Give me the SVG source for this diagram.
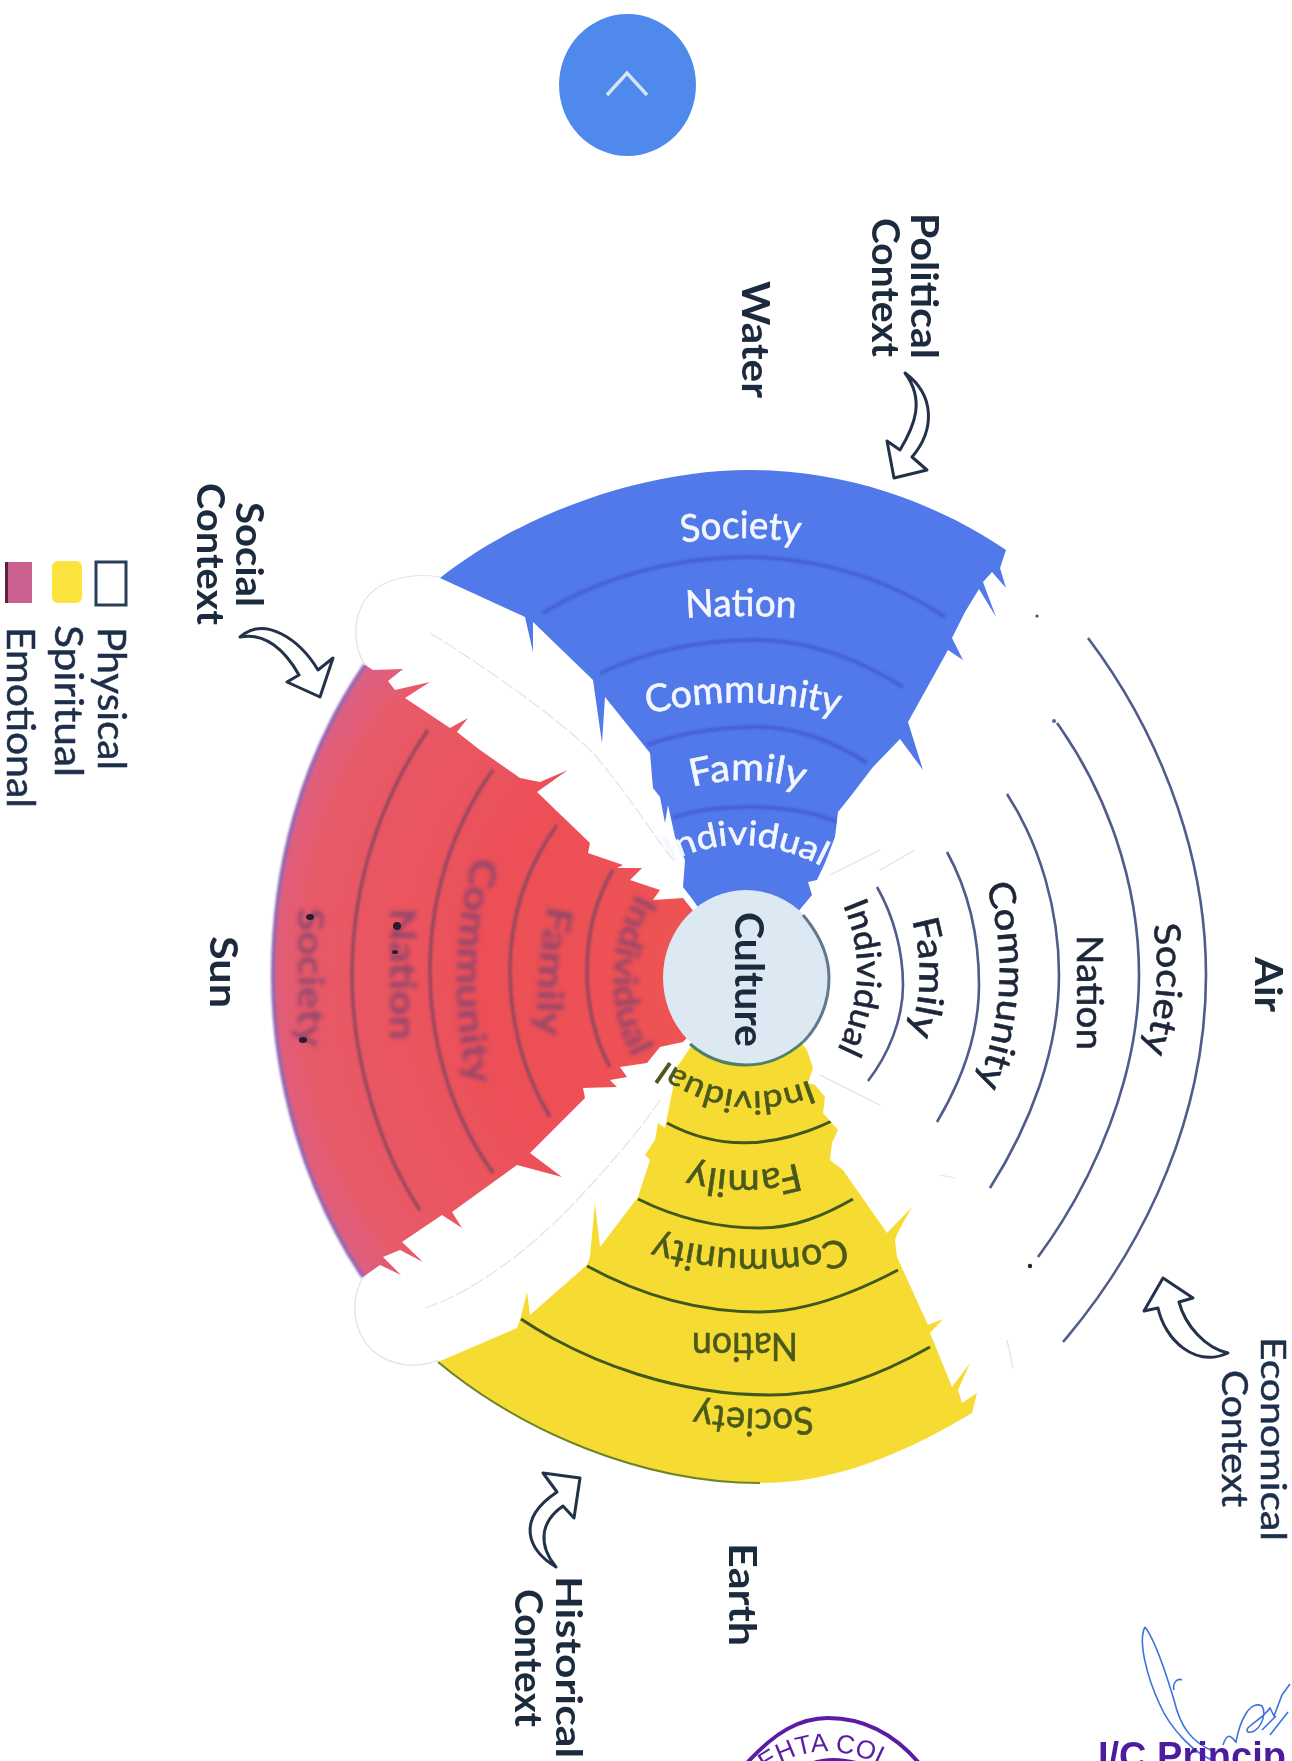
<svg xmlns="http://www.w3.org/2000/svg" xmlns:xlink="http://www.w3.org/1999/xlink" width="1292" height="1761" viewBox="0 0 1292 1761">
<style>
text{font-family:Lato,"Open Sans","Liberation Sans",sans-serif}
.b{font-weight:700;fill:#1c2a3c}
.r{font-weight:400;fill:#1f2f48;stroke:#1f2f48;stroke-width:.5}
.wh{font-weight:400;fill:#f4f7ff;stroke:#f4f7ff;stroke-width:.6}
.ye{font-weight:400;fill:#4a581c;stroke:#4a581c;stroke-width:.6}
.rd{font-weight:700;fill:#7c4470;opacity:.78}
.dk{font-weight:400;fill:#1b2638;stroke:#1b2638;stroke-width:.6}
.ring{fill:none}
.bl{stroke:#4760d6;stroke-width:4}
.rl{stroke:#96465f;stroke-width:3.5}
.yl{stroke:#40591c;stroke-width:3}
.wl{stroke:#4f5b8c;stroke-width:2.6}
.arrow{fill:#fff;stroke:#22304a;stroke-width:3;stroke-linejoin:round}
.fe{fill:none;stroke:#e0e2ec;stroke-width:1.2}
</style>
<defs>
<filter id="soft" x="-5%" y="-5%" width="110%" height="110%"><feGaussianBlur stdDeviation="0.7"/></filter>
<filter id="smear" x="-20%" y="-20%" width="140%" height="140%"><feGaussianBlur stdDeviation="2"/></filter>
<filter id="arcblur" x="-10%" y="-10%" width="120%" height="120%"><feGaussianBlur stdDeviation="1.3"/></filter>
<radialGradient id="redg" gradientUnits="userSpaceOnUse" cx="746" cy="977" r="500">
<stop offset="0" stop-color="#ef5350"/><stop offset=".55" stop-color="#ec5058"/><stop offset=".88" stop-color="#e85a68"/><stop offset="1" stop-color="#d9608a"/>
</radialGradient>
<path id="blueS" d="M440,578 C520,515 640,470 750,470 C850,470 940,505 1006,550 L1000,568 L1006,588 L992,572 L983,582 L996,617 L979,589 L965,612 L952,638 L963,660 L948,650 L908,722 L923,770 L900,739 L873,767 L850,797 L838,812 L835,837 L825,863 L817,880 L808,882 L812,895 L802,907 L746,977 L693,900 L683,887 L685,860 L675,837 L668,805 L665,823 L660,797 L653,788 L650,753 L605,697 L602,743 L593,680 L533,622 L533,652 L525,617 Z"/>
<path id="redS" d="M365,665 C300,760 273,870 273,975 C273,1080 305,1190 363,1277 L380,1265 L401,1275 L383,1257 L400,1250 L423,1262 L402,1242 L442,1215 L462,1228 L452,1212 L517,1165 L562,1177 L530,1153 L585,1098 L583,1088 L617,1087 L610,1080 L627,1077 L620,1067 L647,1063 L660,1047 L683,1042 L746,977 L683,898 L653,900 L660,890 L630,880 L642,868 L617,868 L623,865 L588,853 L590,843 L537,792 L568,770 L540,782 L520,778 L480,750 L457,732 L468,718 L450,728 L405,698 L430,682 L395,690 L388,681 L403,669 L373,670 Z"/>
<path id="yelS" d="M438,1362 C520,1430 640,1483 760,1483 C840,1483 910,1450 972,1413 L977,1393 L962,1403 L958,1390 L970,1363 L952,1387 L930,1333 L943,1319 L928,1325 L897,1257 L895,1240 L898,1232 L912,1207 L887,1233 L843,1170 L830,1160 L832,1143 L838,1130 L823,1113 L825,1097 L815,1085 L808,1083 L813,1068 L807,1050 L746,977 L690,1048 L677,1067 L670,1103 L665,1128 L658,1123 L655,1140 L645,1155 L650,1160 L638,1197 L600,1247 L595,1203 L590,1257 L587,1265 L530,1315 L527,1292 L520,1320 L517,1328 Z"/>
<clipPath id="cb"><use xlink:href="#blueS"/></clipPath>
<clipPath id="cr"><use xlink:href="#redS"/></clipPath>
<clipPath id="cy"><use xlink:href="#yelS"/></clipPath>
<path id="t-bs" d="M682,543 Q741,533 802,543"/>
<path id="t-bn" d="M686,618 Q742,614 798,618"/>
<path id="t-bc" d="M648,714 Q745,690 840,716"/>
<path id="t-bf" d="M692,787 Q750,772 805,790"/>
<path id="t-bi" d="M670,862 Q745,825 825,868"/>
<path id="t-ys" d="M812,1406 Q755,1414 695,1402"/>
<path id="t-yc" d="M845,1238 Q750,1262 655,1235"/>
<path id="t-yf" d="M798,1163 Q745,1178 688,1163"/>
<path id="t-yi" d="M810,1080 Q735,1110 668,1062"/>
<path id="t-wi" d="M843,905 Q876,980 832,1060"/>
<path id="t-wf" d="M912,920 Q930,985 905,1045"/>
<path id="t-wc" d="M986,885 Q1018,985 975,1090"/>
<path id="t-ws" d="M1153,925 Q1165,990 1142,1055"/>
<path id="t-rc" d="M474,856 Q442,975 470,1090"/>
<path id="t-rf" d="M548,905 Q535,970 538,1037"/>
<path id="t-ri" d="M637,893 Q590,980 636,1065"/>
<path id="t-seal" d="M765,1772 Q825,1729 900,1776"/>
</defs>
<rect width="1292" height="1761" fill="#fff"/>

<g id="wheel" filter="url(#soft)">
<g id="sector-water">
<use xlink:href="#blueS" fill="#5179e9"/>
<g clip-path="url(#cb)"><g class="ring bl" filter="url(#arcblur)">
<path d="M543,613 C600,578 670,558 745,557 C820,557 890,580 945,617"/>
<path d="M600,673 C650,650 700,640 755,640 C810,640 860,660 903,687"/>
<path d="M647,745 C680,733 720,727 760,727 C800,727 840,745 867,763"/>
<path d="M673,818 C695,810 725,807 750,807 C785,807 815,812 837,822"/>
</g></g>
<text class="wh" font-size="38"><textPath xlink:href="#t-bs" textLength="118" lengthAdjust="spacingAndGlyphs">Society</textPath></text>
<text class="wh" font-size="38"><textPath xlink:href="#t-bn" textLength="110" lengthAdjust="spacingAndGlyphs">Nation</textPath></text>
<text class="wh" font-size="38"><textPath xlink:href="#t-bc" textLength="192" lengthAdjust="spacingAndGlyphs">Community</textPath></text>
<text class="wh" font-size="38"><textPath xlink:href="#t-bf" textLength="112" lengthAdjust="spacingAndGlyphs">Family</textPath></text>
<text class="wh" font-size="34"><textPath xlink:href="#t-bi" textLength="158" lengthAdjust="spacingAndGlyphs">Individual</textPath></text>
</g>
<g id="sector-sun">
<use xlink:href="#redS" fill="url(#redg)"/>
<path d="M365,665 C300,760 273,870 273,975 C273,1080 305,1190 363,1277" fill="none" stroke="#9468b4" stroke-width="4" filter="url(#arcblur)"/>
<g clip-path="url(#cr)"><g class="ring rl" filter="url(#arcblur)">
<path d="M428,730 C380,800 352,885 352,975 C352,1060 380,1150 420,1210"/>
<path d="M493,770 C450,830 430,900 430,970 C430,1050 455,1120 493,1173"/>
<path d="M557,825 C525,870 510,920 510,970 C510,1025 525,1075 550,1117"/>
<path d="M613,870 C595,900 587,935 587,972 C587,1005 595,1040 610,1067"/>
</g></g>
<g filter="url(#smear)">
<text class="rd" font-size="36" transform="translate(298,908) rotate(90)" textLength="139" lengthAdjust="spacingAndGlyphs">Society</text>
<text class="rd" font-size="36" transform="translate(390,908) rotate(90)" textLength="132" lengthAdjust="spacingAndGlyphs">Nation</text>
<text class="rd" font-size="36"><textPath xlink:href="#t-rc" textLength="232" lengthAdjust="spacingAndGlyphs">Community</textPath></text>
<text class="rd" font-size="36"><textPath xlink:href="#t-rf" textLength="132" lengthAdjust="spacingAndGlyphs">Family</textPath></text>
<text class="rd" font-size="34"><textPath xlink:href="#t-ri" textLength="172" lengthAdjust="spacingAndGlyphs">Individual</textPath></text>
</g>
<g fill="#2a1a2a">
<ellipse cx="310" cy="917" rx="4" ry="3"/><ellipse cx="303" cy="1040" rx="4" ry="3"/>
<ellipse cx="397" cy="926" rx="4" ry="4"/><ellipse cx="395" cy="952" rx="3" ry="2"/>
</g>
</g>
<g id="sector-earth">
<use xlink:href="#yelS" fill="#f6dc30"/>
<path d="M438,1362 C520,1430 640,1483 760,1483" fill="none" stroke="#6c8428" stroke-width="2"/>
<g clip-path="url(#cy)" class="ring yl">
<path d="M667,1123 Q745,1165 838,1118"/>
<path d="M638,1199 C680,1220 720,1228 760,1228 C795,1228 825,1215 853,1199"/>
<path d="M587,1266 C640,1295 700,1312 760,1312 C810,1312 860,1290 898,1270"/>
<path d="M521,1319 C590,1365 680,1395 770,1395 C830,1395 880,1375 930,1347"/>
</g>
<text class="ye" font-size="38"><textPath xlink:href="#t-ys" textLength="117" lengthAdjust="spacingAndGlyphs">Society</textPath></text>
<text class="ye" font-size="38" transform="translate(798,1333) rotate(180)" textLength="106" lengthAdjust="spacingAndGlyphs">Nation</text>
<text class="ye" font-size="38"><textPath xlink:href="#t-yc" textLength="192" lengthAdjust="spacingAndGlyphs">Community</textPath></text>
<text class="ye" font-size="38"><textPath xlink:href="#t-yf" textLength="110" lengthAdjust="spacingAndGlyphs">Family</textPath></text>
<text class="ye" font-size="32"><textPath xlink:href="#t-yi" textLength="152" lengthAdjust="spacingAndGlyphs">Individual</textPath></text>
</g>
<g id="sector-air">
<g class="ring wl">
<path d="M1088,638 C1150,720 1206,840 1206,975 C1206,1110 1150,1240 1063,1342"/>
<path d="M1057,723 C1105,790 1139,880 1139,975 C1139,1075 1095,1180 1038,1257"/>
<path d="M1007,794 C1040,845 1059,910 1059,975 C1059,1050 1030,1125 990,1188"/>
<path d="M947,852 C968,890 979,935 979,985 C979,1035 962,1080 937,1122"/>
<path d="M877,887 C893,915 903,950 903,985 C903,1020 888,1055 868,1081"/>
</g>
<text class="dk" font-size="36"><textPath xlink:href="#t-ws" textLength="128" lengthAdjust="spacingAndGlyphs">Society</textPath></text>
<text class="dk" font-size="36" transform="translate(1077,935) rotate(90)" textLength="115" lengthAdjust="spacingAndGlyphs">Nation</text>
<text class="dk" font-size="36"><textPath xlink:href="#t-wc" textLength="204" lengthAdjust="spacingAndGlyphs">Community</textPath></text>
<text class="dk" font-size="36"><textPath xlink:href="#t-wf" textLength="116" lengthAdjust="spacingAndGlyphs">Family</textPath></text>
<text class="dk" font-size="34"><textPath xlink:href="#t-wi" textLength="150" lengthAdjust="spacingAndGlyphs">Individual</textPath></text>
</g>
<g id="feathers">
<path class="fe" d="M440,577 C410,572 375,580 362,605 C352,625 355,650 365,665"/>
<path class="fe" d="M363,1277 C350,1300 352,1330 372,1350 C392,1368 420,1368 438,1360"/>
<path class="fe" d="M430,633 C490,670 560,720 593,753 C625,790 650,830 673,860" stroke-dasharray="14 3"/>
<path class="fe" d="M425,1308 C480,1290 540,1240 577,1200 C610,1165 640,1130 660,1100" stroke-dasharray="14 3"/>
<path class="fe" d="M830,875 L880,850 M880,870 L915,850 M820,1075 L880,1105 M940,1175 L955,1178 M1007,1340 L1013,1368"/>
<circle cx="1037" cy="616" r="1.6" fill="#444c6c"/><circle cx="1054" cy="721" r="2" fill="#4a6a9c"/><circle cx="1030" cy="1266" r="2.2" fill="#1c2438"/>
</g>
<g id="culture">
<ellipse cx="746" cy="977.5" rx="83" ry="87.5" fill="#dde9f2"/>
<path d="M803,915 C820,935 829,955 829,978 C829,1002 820,1025 803,1042" fill="none" stroke="#60798f" stroke-width="3"/>
<path d="M803,1042 C785,1058 765,1065 746,1065 C725,1065 706,1058 690,1044" fill="none" stroke="#4f8166" stroke-width="3"/>
<text class="b" font-size="40" transform="translate(735,912) rotate(90)" textLength="135" lengthAdjust="spacingAndGlyphs">Culture</text>
</g>
</g>

<g filter="url(#soft)">
<g id="button"><ellipse cx="627.5" cy="85" rx="68.5" ry="71" fill="#5089ec"/>
<path d="M607,95 L627,73 L647,95" fill="none" stroke="#d4e3fa" stroke-width="3.5"/></g>
<g id="label-water"><text class="b" font-size="38" transform="translate(742,281) rotate(90)" textLength="117" lengthAdjust="spacingAndGlyphs">Water</text></g>
<g id="label-political">
<text class="b" font-size="38" transform="translate(911,213) rotate(90)" textLength="146" lengthAdjust="spacingAndGlyphs">Political</text>
<text class="b" font-size="38" transform="translate(872,218) rotate(90)" textLength="139" lengthAdjust="spacingAndGlyphs">Context</text></g>
<g id="label-social">
<text class="b" font-size="38" transform="translate(236,502) rotate(90)" textLength="105" lengthAdjust="spacingAndGlyphs">Social</text>
<text class="b" font-size="38" transform="translate(197,483) rotate(90)" textLength="142" lengthAdjust="spacingAndGlyphs">Context</text></g>
<g id="label-sun"><text class="b" font-size="38" transform="translate(210,936) rotate(90)" textLength="72" lengthAdjust="spacingAndGlyphs">Sun</text></g>
<g id="label-air"><text class="b" font-size="38" transform="translate(1255,957) rotate(90)" textLength="55" lengthAdjust="spacingAndGlyphs">Air</text></g>
<g id="label-earth"><text class="b" font-size="38" transform="translate(729,1543) rotate(90)" textLength="103" lengthAdjust="spacingAndGlyphs">Earth</text></g>
<g id="label-historical">
<text class="b" font-size="36" transform="translate(556,1576) rotate(90)" textLength="182" lengthAdjust="spacingAndGlyphs">Historical</text>
<text class="b" font-size="38" transform="translate(515,1589) rotate(90)" textLength="138" lengthAdjust="spacingAndGlyphs">Context</text></g>
<g id="label-economical">
<text class="r" font-size="35" transform="translate(1261,1337) rotate(90)" textLength="204" lengthAdjust="spacingAndGlyphs">Economical</text>
<text class="r" font-size="37" transform="translate(1222,1370) rotate(90)" textLength="137" lengthAdjust="spacingAndGlyphs">Context</text></g>
<g id="legend">
<rect x="96" y="562" width="30" height="43" fill="#fff" stroke="#2c3e58" stroke-width="3"/>
<rect x="52" y="561" width="30" height="42" rx="6" fill="#fbe23d"/>
<rect x="5" y="562" width="27" height="41" fill="#c9608f"/><rect x="5" y="562" width="3" height="41" fill="#5a2440"/>
<text class="r" font-size="38" transform="translate(98,627) rotate(90)" textLength="143" lengthAdjust="spacingAndGlyphs">Physical</text>
<text class="r" font-size="38" transform="translate(55,625) rotate(90)" textLength="152" lengthAdjust="spacingAndGlyphs">Spiritual</text>
<text class="r" font-size="38" transform="translate(7,627) rotate(90)" textLength="181" lengthAdjust="spacingAndGlyphs">Emotional</text>
</g>
<g id="connectors">
<path class="arrow" d="M905,373 C935,395 935,430 912,457 L927,470 L894,478 L887,441 L900,450 C915,425 925,400 905,373 Z"/>
<path class="arrow" d="M240,637 C265,615 300,640 318,670 L333,658 L320,697 L287,682 L299,675 C285,650 265,632 240,637 Z"/>
<path class="arrow" d="M1228,1353 C1195,1368 1165,1340 1158,1308 L1144,1311 L1163,1278 L1193,1298 L1179,1302 C1185,1325 1205,1348 1228,1353 Z"/>
<path class="arrow" d="M556,1567 C528,1550 515,1520 557,1492 L543,1473 L580,1478 L574,1518 L563,1506 C540,1522 538,1545 556,1567 Z"/>
</g>
<g id="seal">
<path d="M747,1763 C775,1732 800,1718 828,1718 C865,1718 895,1735 919,1763" fill="none" stroke="#5a1fa6" stroke-width="4"/>
<path d="M812,1763 Q832,1756 858,1763" fill="none" stroke="#5a1fa6" stroke-width="3"/>
<text font-size="26" style="font-family:'Liberation Sans',sans-serif;fill:#5a1fa6"><textPath xlink:href="#t-seal" textLength="128" lengthAdjust="spacing">EHTA COL</textPath></text>
</g>
<g id="signature" fill="none" stroke="#3f72dc" stroke-width="1.6">
<path d="M1145,1627 C1155,1640 1168,1680 1174,1700 C1180,1725 1190,1742 1215,1752 M1145,1627 C1138,1640 1146,1675 1160,1705 C1170,1728 1195,1755 1215,1761 M1174,1690 C1172,1682 1178,1678 1182,1680"/>
<path d="M1223,1745 C1228,1730 1232,1738 1236,1742 C1240,1720 1250,1700 1262,1706 C1268,1715 1258,1735 1248,1732 C1242,1728 1262,1720 1270,1708 L1274,1716 L1282,1695 L1290,1684 M1262,1730 L1276,1716 M1270,1735 L1288,1712"/>
</g>
<g id="principal"><text x="1098" y="1769" font-size="38" style="font-family:'Liberation Sans',sans-serif;font-weight:700;fill:#4b1fa0">I/C Princip</text></g>
</g>
</svg>
